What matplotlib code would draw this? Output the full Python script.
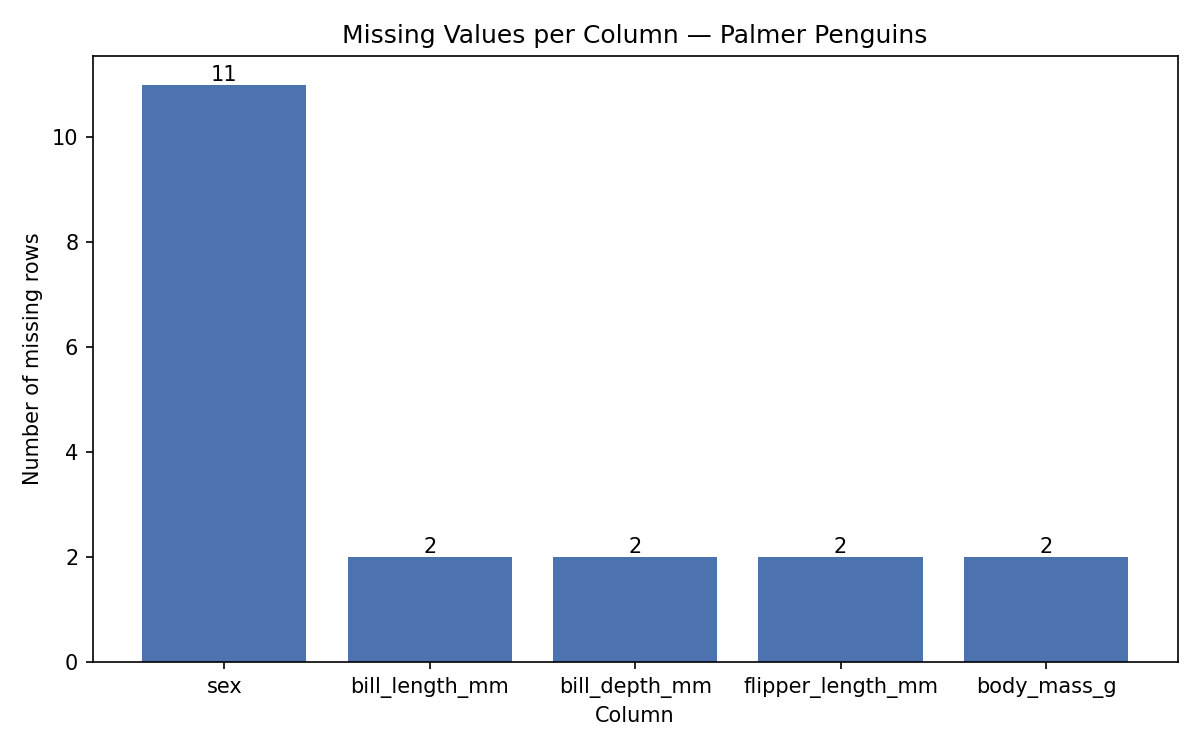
import matplotlib
matplotlib.use("Agg")

import matplotlib.pyplot as plt

columns = ['sex', 'bill_length_mm', 'bill_depth_mm', 'flipper_length_mm', 'body_mass_g']
missing = [11, 2, 2, 2, 2]

fig, ax = plt.subplots(figsize=(8, 5))

bars = ax.bar(columns, missing, color='#4C72B0')
ax.bar_label(bars, labels=[str(v) for v in missing])

ax.set_title('Missing Values per Column \u2014 Palmer Penguins')
ax.set_xlabel('Column')
ax.set_ylabel('Number of missing rows')

fig.tight_layout()
fig.savefig('out.png', dpi=150)
